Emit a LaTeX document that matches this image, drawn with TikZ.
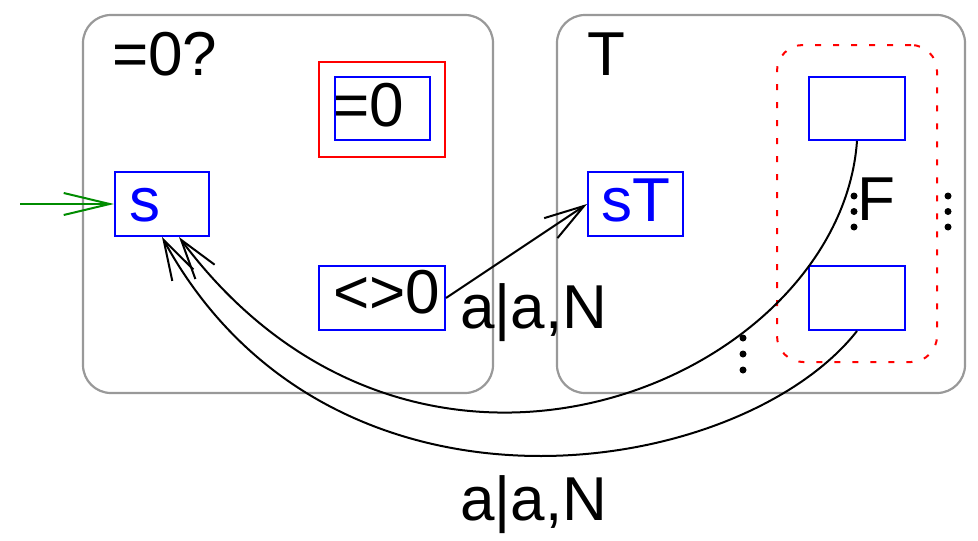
\documentclass[tikz,border=0pt]{standalone}
\usepackage{fontspec}
\setmainfont{Liberation Sans}
\usetikzlibrary{arrows.meta}
\begin{document}
\begin{tikzpicture}[x=1pt,y=-1pt,
  container/.style={draw=black!40, line width=2.2pt, rounded corners=28pt},
  bbox/.style={draw=blue, line width=2pt, rectangle, inner sep=0pt},
  txt/.style={font=\fontsize{62}{74}\selectfont, inner sep=0pt, anchor=base west},
  btxt/.style={txt, text=blue},
  edge/.style={line width=2pt, -{Straight Barb[length=40pt,width=24pt,line width=2pt]}},
  dotc/.style={circle, fill=black, inner sep=0pt, minimum size=7pt}]
\useasboundingbox (0,0) rectangle (978,541);
% containers
\node[container, minimum width=410pt, minimum height=378pt, inner sep=0pt] (left) at (288,204) {};
\node[container, minimum width=408pt, minimum height=378pt, inner sep=0pt] (right) at (761,204) {};
\node[txt] (lbl0) at (112,75) {=0?};
\node[txt] (lblT) at (587,75) {T};
% red boxes
\node[draw=red, line width=2pt, minimum width=126pt, minimum height=95pt, inner sep=0pt] (eqred) at (382,109.5) {};
\node[bbox, minimum width=95pt, minimum height=63pt] (eq) at (382.5,108.5) {};
\node[txt] (eqtxt) at (333,126) {=0};
\node[draw=red, line width=2pt, dash pattern=on 6pt off 12pt, rounded corners=26pt, minimum width=160pt, minimum height=317pt, inner sep=0pt] (F) at (857,203.5) {};
% state boxes
\node[bbox, minimum width=94pt, minimum height=64pt] (s) at (162,204) {};
\node[btxt] (stxt) at (129,221) {s};
\node[bbox, minimum width=126pt, minimum height=64pt] (neq) at (382,298) {};
\node[txt] (neqtxt) at (333,313) {<>0};
\node[bbox, minimum width=95pt, minimum height=64pt] (sT) at (635.5,204) {};
\node[btxt] (sTtxt) at (601,221) {sT};
\node[bbox, minimum width=96pt, minimum height=63pt] (f1) at (857,108.5) {};
\node[bbox, minimum width=96pt, minimum height=64pt] (f2) at (857,298) {};
\node[txt] (Ftxt) at (857,220) {F};
% dots
\foreach \i/\y in {1/196,2/211.5,3/227}{
  \node[dotc] (da\i) at (854,\y) {};
  \node[dotc] (db\i) at (948,\y) {};
}
\foreach \i/\y in {1/338,2/354,3/370}{
  \node[dotc] (dc\i) at (743,\y) {};
}
% connectors
\coordinate (start) at (20,204);
\draw[line width=2pt, draw=green!55!black, -{Straight Barb[length=46pt,width=22pt,line width=2pt]}] (start) -- (s.west);
\draw[edge] (neq.east) -- (sT.west);
\node[txt] (l1) at (460,328) {a|a,N};
\draw[edge] (f1.south) .. controls (840,380) and (420,560) .. ([xshift=17pt]s.south);
\draw[edge] (f2.south) .. controls (740,480) and (330,545) .. (s.south);
\node[txt] (l2) at (460,520) {a|a,N};
\end{tikzpicture}
\end{document}
